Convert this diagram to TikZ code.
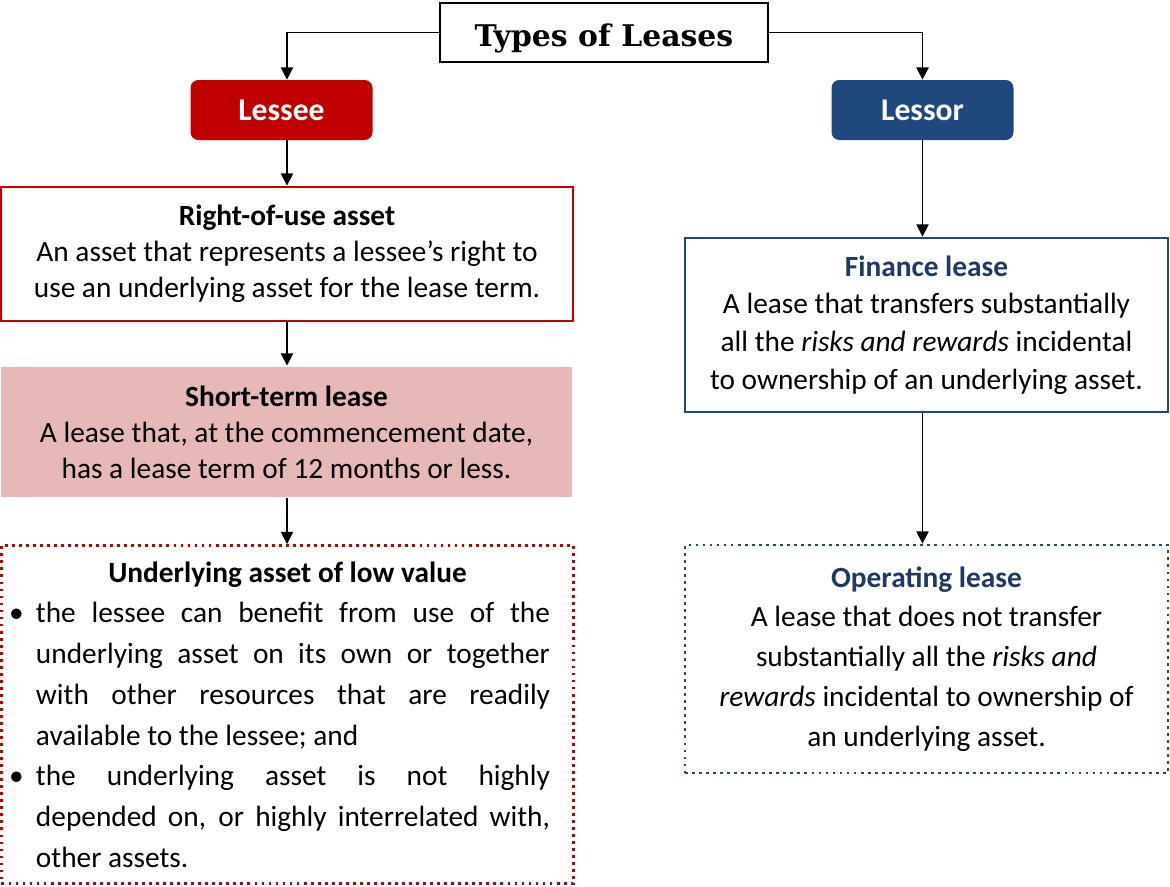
\documentclass[tikz,border=0pt]{standalone}
\usepackage{fontspec}
\setmainfont{Carlito}
\newfontfamily\headfont{DejaVu Serif}
\usetikzlibrary{arrows.meta}
\definecolor{leasered}{HTML}{C00000}
\definecolor{leasepink}{HTML}{E6B8B7}
\definecolor{leaseblue}{HTML}{1F497D}
\definecolor{leasenavy}{HTML}{1F3864}
\def\px{0.02cm}
\tikzset{
	arr/.style={line width=0.8pt, -{Triangle[length=7pt,width=7pt]}},
	party/.style={rounded corners=4.5pt, text=white, font=\fontsize{18}{21}\selectfont\bfseries, minimum width=182*\px, minimum height=60*\px},
	defbox/.style={line width=1.6pt, align=center, inner sep=0pt, font=\fontsize{16.7}{20.4}\selectfont},
	dots/.style={dash pattern=on 1.6pt off 2.4pt},
}

\begin{document}
\begin{tikzpicture}[x=\px, y=-\px]
		%%%%% START %%%%%
		\useasboundingbox (0,0) rectangle (1170,886);
		
		\node[draw, line width=1.1pt, minimum width=328*\px, minimum height=59*\px, text height=16pt, text depth=0pt, font=\headfont\bfseries\fontsize{17}{20}\selectfont] (title) at (604,32.5) {Types of Leases};
		
		\node[party, fill=leasered] (lessee) at (281.5,110) {Lessee};
		\node[party, fill=leaseblue] (lessor) at (922.5,110) {Lessor};
		
		% lessee side
		\node[defbox, draw=leasered, minimum width=572*\px, minimum height=134*\px] (rou) at (287,254) {\textbf{Right-of-use asset}\\An asset that represents a lessee’s right to\\use an underlying asset for the lease term.};
		\node[defbox, fill=leasepink, minimum width=571*\px, minimum height=130*\px] (stl) at (286.5,432) {\textbf{Short-term lease}\\A lease that, at the commencement date,\\has a lease term of 12 months or less.};
		\node[defbox, draw=leasered, dots, minimum width=572*\px, minimum height=338*\px, text width=525*\px, align=justify, font=\fontsize{16.7}{23.2}\selectfont] (low) at (287.5,714.5) {{\centering\textbf{Underlying asset of low value}\par}
			\leftskip=0.22cm\noindent\llap{\textbullet\hspace{7pt}}the lessee can benefit from use of the\linebreak underlying asset on its own or together\linebreak with other resources that are readily\linebreak available to the lessee; and\par
			\noindent\llap{\textbullet\hspace{7pt}}the underlying asset is not highly\linebreak depended on, or highly interrelated with,\linebreak other assets.\par};
		
		% lessor side
		\node[defbox, draw=leaseblue, minimum width=483*\px, minimum height=174*\px, font=\fontsize{16.7}{21.5}\selectfont] (fin) at (926.5,325) {\textcolor{leasenavy}{\textbf{Finance lease}}\\A lease that transfers substantially\\all the \textit{risks and rewards} incidental\\to ownership of an underlying asset.};
		\node[defbox, draw=leaseblue, dots, minimum width=483*\px, minimum height=228*\px, font=\fontsize{16.7}{22.7}\selectfont] (op) at (926.5,659) {\textcolor{leasenavy}{\textbf{Operating lease}}\\A lease that does not transfer\\substantially all the \textit{risks and}\\\textit{rewards} incidental to ownership of\\an underlying asset.};
		
		\draw[arr] (title.west) -| (lessee.north -| rou.north);
		\draw[arr] (title.east) -| (lessor.north);
		\draw[arr] (lessee.south -| rou.north) -- (rou.north);
		\draw[arr] (rou.south) -- (stl.north -| rou.south);
		\draw[arr] (stl.south -| rou.south) -- (low.north -| rou.south);
		\draw[arr] (lessor.south) -- (lessor.south |- fin.north);
		\draw[arr] (fin.south -| lessor.south) -- (op.north -| lessor.south);
		
		%%%%% END %%%%%
\end{tikzpicture}
\end{document}
